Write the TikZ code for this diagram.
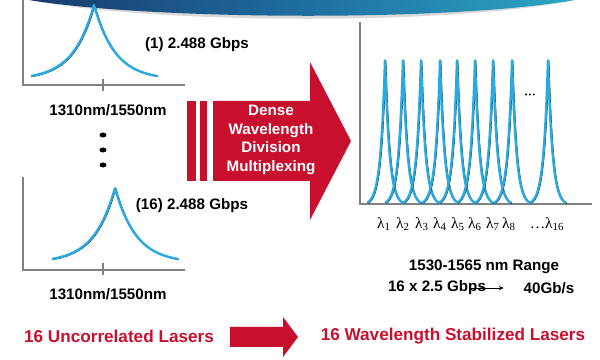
\documentclass[tikz,border=0pt]{standalone}
\usepackage{fontspec}
\setmainfont{Liberation Sans}
\newfontfamily\lamfont{Liberation Serif}
\usetikzlibrary{arrows.meta}

\definecolor{dwdmred}{RGB}{200,16,46}
\definecolor{peakblue}{RGB}{41,171,226}
\definecolor{axisgray}{RGB}{128,128,128}
\definecolor{bannernavy}{RGB}{25,58,108}
\definecolor{bannerblue}{RGB}{30,110,160}
\definecolor{bannerteal}{RGB}{45,165,195}

\tikzset{
	axis/.style={axisgray, line width=1.4pt},
	spike/.style={peakblue, line width=1.7pt, line join=round},
	spikeedge/.style={black, line width=0.9pt, line join=round},
	lbl/.style={font=\fontsize{10.8}{13}\selectfont\bfseries, inner sep=0pt},
	redlbl/.style={font=\fontsize{12.2}{14}\selectfont\bfseries, text=dwdmred, inner sep=0pt},
	lam/.style={font=\lamfont\fontsize{11}{13}\selectfont, inner sep=0pt},
}

% cusp shaped laser line: centre x, top y, end y, half width, decay
\newcommand{\laserline}[5]{%
	\draw[spikeedge, xshift=0.5pt, yshift=-0.3pt] plot[domain=-1:1, samples=101]
		({#1+#4*\x}, {#3-(#3-#2)*(exp(-#5*abs(\x))-exp(-#5))/(1-exp(-#5))});
	\draw[spike] plot[domain=-1:1, samples=101]
		({#1+#4*\x}, {#3-(#3-#2)*(exp(-#5*abs(\x))-exp(-#5))/(1-exp(-#5))});
}

\begin{document}
\begin{tikzpicture}[x=0.025cm, y=-0.025cm]
	\useasboundingbox (0,0) rectangle (600,360);
	
	\fill[gray!30] (29,0) .. controls (150,24) and (450,26) .. (575,0) -- cycle;
	\shade[left color=bannernavy, right color=bannerteal, middle color=bannerblue]
		(29,0) .. controls (150,20) and (450,22) .. (575,0) -- cycle;
	
	\draw[axis] (23,0) -- (23,85) -- (185,85);
	\draw[axis] (103,79) -- (103,91);
	\laserline{94}{5}{76}{63}{3}
	\node[lbl] (rate1) at (197,45) {(1) 2.488 Gbps};
	\node[lbl] (band1) at (108,110) {1310nm/1550nm};
	
	\foreach \y in {135,150,165}
		\fill (103,\y) ellipse (3.5 and 2.5);
	
	\draw[axis] (23,177) -- (23,270) -- (185,270);
	\draw[axis] (103,263) -- (103,275);
	\laserline{115}{188}{259}{63}{3}
	\node[lbl] (rate16) at (192,206) {(16) 2.488 Gbps};
	\node[lbl] (band16) at (108,294) {1310nm/1550nm};
	
	\fill[dwdmred] (187,101) rectangle (196,181);
	\fill[dwdmred] (200,101) rectangle (207,181);
	\fill[dwdmred] (213,101) -- (310,101) -- (310,62) -- (351,141) -- (310,220) -- (310,181) -- (213,181) -- cycle;
	\node[lbl, text=white, align=center, font=\fontsize{10.8}{13.2}\selectfont\bfseries] (dwdm) at (271,140)
		{Dense\\Wavelength\\Division\\Multiplexing};
	
	\draw[axis] (360,22) -- (360,204) -- (592,204);
	\foreach \px in {385,403,421,440,457,475,493,512,548}
		\laserline{\px}{60}{203}{18}{4}
	\node[lam, font=\lamfont\fontsize{8}{10}\selectfont] (more) at (530,95) {\dots};
	\foreach \px/\i in {384/1,403/2,422/3,440/4,458/5,475/6,493/7,509/8}
		\node[lam] (lam\i) at (\px,224) {λ\textsubscript{\i}};
	\node[lam] (lam16) at (547,224) {\dots λ\textsubscript{16}};
	
	\node[lbl] (range) at (484,267) {1530-1565 nm Range};
	\node[lbl] (gbps) at (437,288) {16 x 2.5 Gbps};
	\node[lbl] (total) at (549,288) {40Gb/s};
	\draw[-{Stealth[length=3.5pt,width=3pt]}, line width=0.6pt] ([xshift=-12pt]gbps.east) -- ([xshift=-14pt]total.west);
	
	\node[redlbl] (before) at (119,336) {16 Uncorrelated Lasers};
	\fill[dwdmred] (230,327) -- (283,327) -- (283,317) -- (298,337) -- (283,357) -- (283,347) -- (230,347) -- cycle;
	\node[redlbl] (after) at (453,336) {16 Wavelength Stabilized Lasers};
\end{tikzpicture}
\end{document}
